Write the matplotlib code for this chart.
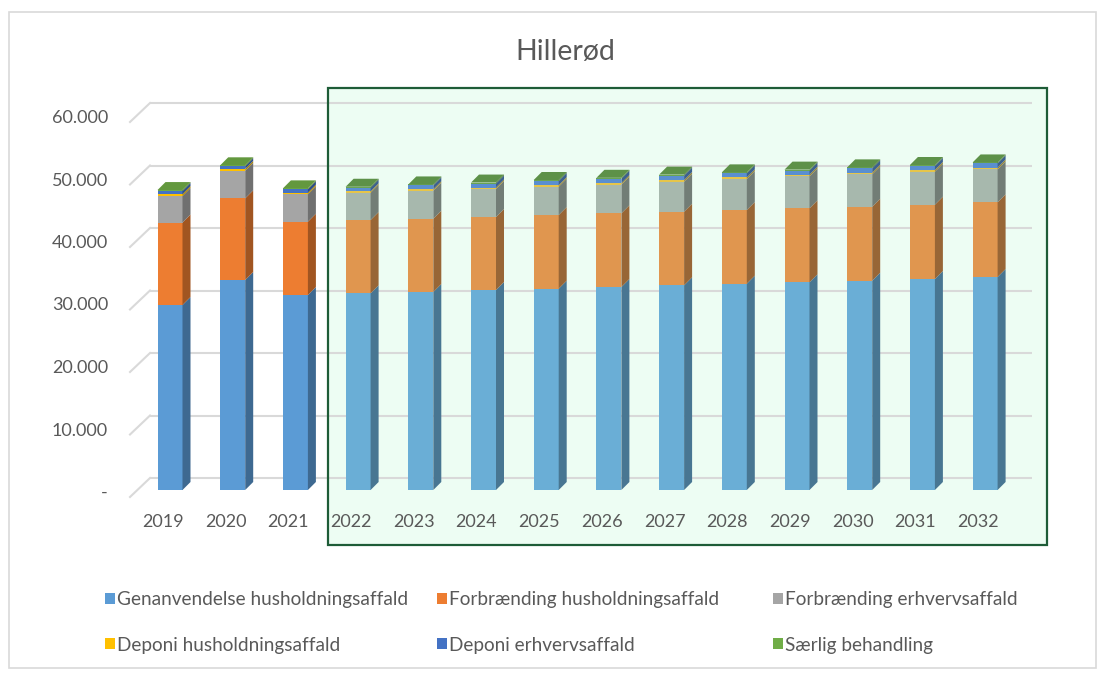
import matplotlib
matplotlib.use('Agg')

import matplotlib.pyplot as plt
from matplotlib.patches import Rectangle, Polygon, Patch
from matplotlib import colors as mcolors

plt.rcParams['font.family'] = ['Lato', 'DejaVu Sans']

# Data (tons per year)
years = [2019, 2020, 2021, 2022, 2023, 2024, 2025, 2026, 2027, 2028, 2029, 2030, 2031, 2032]
genanvendelse_hus = [29600, 33600, 31200, 31470, 31680, 32000, 32210, 32480, 32750, 33010, 33230, 33490, 33760, 34080]
forbraending_hus = [13200, 13070, 11730, 11730, 11730, 11680, 11790, 11790, 11780, 11790, 11840, 11840, 11890, 11950]
forbraending_erh = [4240, 4430, 4370, 4370, 4480, 4480, 4530, 4580, 4800, 4960, 5120, 5180, 5280, 5280]
deponi_hus = [300, 280, 270, 220, 230, 240, 250, 250, 260, 260, 270, 280, 280, 290]
deponi_erh = [500, 420, 540, 580, 620, 640, 670, 700, 720, 650, 650, 680, 640, 660]
saerlig = [150, 150, 150, 150, 150, 150, 150, 150, 150, 150, 150, 150, 150, 150]

series_labels = ['Genanvendelse husholdningsaffald', 'Forbrænding husholdningsaffald',
                 'Forbrænding erhvervsaffald', 'Deponi husholdningsaffald',
                 'Deponi erhvervsaffald', 'Særlig behandling']
series = [genanvendelse_hus, forbraending_hus, forbraending_erh, deponi_hus, deponi_erh, saerlig]
yticks = [0, 10000, 20000, 30000, 40000, 50000, 60000]
ytick_labels = ['-', '10.000', '20.000', '30.000', '40.000', '50.000', '60.000']
n_hist = 3  # 2019-2021 are historical, rest is projection

hist_colors = ['#5B9BD5', '#ED7D31', '#A5A5A5', '#FFC000', '#4472C4', '#70AD47']
proj_colors = ['#6AAED6', '#E0964F', '#A7B8AD', '#E6C54A', '#5A8FD0', '#6AA552']

W, H = 1108, 674
fig = plt.figure(figsize=(W / 100, H / 100), dpi=100)
txt = '#595959'


def px_box(x0, y0, x1, y1):
    # pixel box (from top-left) -> figure fraction rect
    return [x0 / W, 1 - y1 / H, (x1 - x0) / W, (y1 - y0) / H]


# Outer chart border
fig.patches.append(Rectangle((9 / W, 1 - 668 / H), (1096 - 9) / W, (668 - 12) / H,
                             transform=fig.transFigure, fill=False, ec='#D9D9D9', lw=1.2))

# Projection box (fill behind axes, edge on top)
bx = px_box(328, 88, 1047, 545)
fig.patches.append(Rectangle((bx[0], bx[1]), bx[2], bx[3], transform=fig.transFigure,
                             fc='#EDFDF3', ec='none', zorder=-1))
fig.patches.append(Rectangle((bx[0], bx[1]), bx[2], bx[3], transform=fig.transFigure,
                             fill=False, ec='#1E5C37', lw=1.6, zorder=5))

# Axes: bar front plane, x index -> 170 + 62.7*i px, value 0 -> 490 px, 62.5 px per 10.000
step = 62.7
ppv = 62.5 / 10000
left_px, right_px = 120, 1040
ax = fig.add_axes(px_box(left_px, 490 - 60000 * ppv, right_px, 490))
ax.set_xlim((left_px - 170) / step, (right_px - 170) / step)
ax.set_ylim(0, 60000)
ax.axis('off')

dxu = lambda p: p / step   # pixels -> x units
dyu = lambda p: p / ppv    # pixels -> value units

# Back wall gridlines + floor connectors
for v in yticks:
    yb = v + dyu(12)
    ax.plot([dxu(150 - 170), dxu(1032 - 170)], [yb, yb], color='#D9D9D9', lw=1.5,
            zorder=0, clip_on=False, solid_capstyle='butt')
    ax.plot([dxu(130 - 170), dxu(150 - 170)], [v - dyu(7), yb], color='#D9D9D9', lw=1.5,
            zorder=0, clip_on=False)

# Stacked 3D-ish bars
xs = list(range(len(years)))
bw = 25 / step
ddx, ddy = dxu(8), dyu(8)


def shade(c, f):
    r, g, b = mcolors.to_rgb(c)
    return (r * f, g * f, b * f)


bottoms = [0] * len(years)
for k, vals in enumerate(series):
    cols = [hist_colors[k] if i < n_hist else proj_colors[k] for i in xs]
    ax.bar(xs, vals, width=bw, bottom=bottoms, color=cols, zorder=2, clip_on=False)
    for i in xs:
        y0, y1 = bottoms[i], bottoms[i] + vals[i]
        xr = i + bw / 2
        ax.add_patch(Polygon([(xr, y0), (xr + ddx, y0 + ddy), (xr + ddx, y1 + ddy), (xr, y1)],
                             closed=True, fc=shade(cols[i], 0.68), ec='none', zorder=2,
                             clip_on=False))
        if k == len(series) - 1:
            xl = i - bw / 2
            ax.add_patch(Polygon([(xl, y1), (xr, y1), (xr + ddx, y1 + ddy), (xl + ddx, y1 + ddy)],
                                 closed=True, fc=shade(cols[i], 0.88), ec='none', zorder=2,
                                 clip_on=False))
    bottoms = [b + v for b, v in zip(bottoms, vals)]

# Tick labels
for v, lab in zip(yticks, ytick_labels):
    ax.text(dxu(108 - 170), v - dyu(3), lab, ha='right', va='center', fontsize=13,
            color=txt, clip_on=False)
for i, yr in zip(xs, years):
    ax.text(i - dxu(7), -dyu(32), str(yr), ha='center', va='center', fontsize=13,
            color=txt, clip_on=False)

# Title
fig.text(565 / W, 1 - 52 / H, 'Hillerød', ha='center', va='center', fontsize=20.5, color=txt)

# Legend, three columns of two rows
col_x = [105, 437, 773]
for c in range(3):
    handles = [Patch(fc=hist_colors[k], ec='none') for k in (c, c + 3)]
    labels = [series_labels[k] for k in (c, c + 3)]
    fig.legend(handles, labels, loc='upper left', bbox_to_anchor=(col_x[c] / W, 1 - 591 / H),
               frameon=False, fontsize=13.7, labelcolor=txt, handlelength=0.5,
               handleheight=0.5, handletextpad=0.15, labelspacing=1.5, borderpad=0,
               borderaxespad=0)

fig.savefig('out.png', dpi=100)
